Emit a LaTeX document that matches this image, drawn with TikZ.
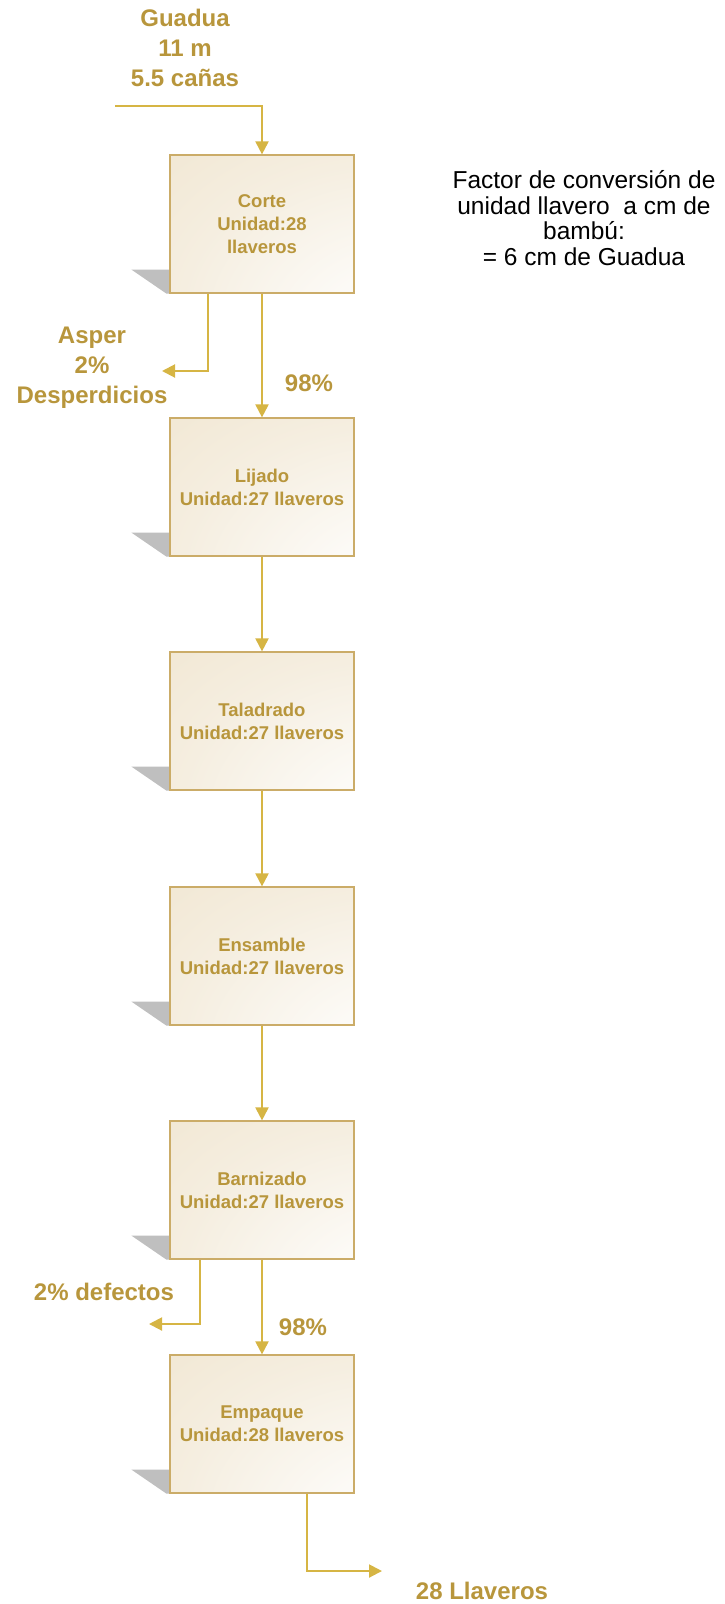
\documentclass[tikz,border=0pt]{standalone}
\usepackage{fontspec}
\setmainfont{Liberation Sans}
\usepackage{tikz}
\usetikzlibrary{arrows.meta,backgrounds}

\definecolor{oro}{RGB}{184,150,60}
\definecolor{flecha}{RGB}{214,181,68}
\definecolor{borde}{RGB}{203,172,104}
\definecolor{beige}{RGB}{238,226,201}
\definecolor{beigeclaro}{RGB}{245,238,224}
\pgfdeclareradialshading{caja}{\pgfpoint{50bp}{-50bp}}{color(0bp)=(white); color(15bp)=(white);
    color(55bp)=(beigeclaro); color(95bp)=(beige); color(160bp)=(beige)}

\begin{document}
\begin{tikzpicture}[x=1pt,y=-1pt,
    proceso/.style={draw=borde, line width=1.2pt, minimum width=184pt, minimum height=138pt,
        align=center, text=oro, font=\fontsize{18.5}{23}\selectfont\bfseries,
        shade, shading=caja},
    flujo/.style={draw=flecha, line width=2pt, -{Triangle[length=13pt,width=13pt]}},
    etiqueta/.style={align=center, text=oro, font=\fontsize{24}{30}\selectfont\bfseries},
    sombra/.style={fill=black!25}]
    \useasboundingbox (0,0) rectangle (724,1604);

    \node[etiqueta] (guadua) at (185,48) {Guadua\\11 m\\5.5 cañas};
    \node[align=center, font=\fontsize{24.5}{25.5}\selectfont] (factor) at (584,218)
        {Factor de conversión de\\unidad llavero\ \ a cm de\\bambú:\\= 6 cm de Guadua};

    \node[proceso] (corte) at (262,224) {Corte\\Unidad:28\\llaveros};
    \node[proceso] (lijado) at (262,487) {Lijado\\Unidad:27 llaveros};
    \node[proceso] (taladrado) at (262,721) {Taladrado\\Unidad:27 llaveros};
    \node[proceso] (ensamble) at (262,956) {Ensamble\\Unidad:27 llaveros};
    \node[proceso] (barnizado) at (262,1190) {Barnizado\\Unidad:27 llaveros};
    \node[proceso] (empaque) at (262,1424) {Empaque\\Unidad:28 llaveros};

    \begin{scope}[on background layer]
        \foreach \b in {corte,lijado,taladrado,ensamble,barnizado,empaque}
            \fill[sombra] ([xshift=-38pt,yshift=24pt]\b.south west) -- ([yshift=24pt]\b.south west)
                -- (\b.south west) -- ([xshift=-3pt]\b.south west) -- cycle;
    \end{scope}

    \node[etiqueta] (asper) at (92,368) {Asper\\2\%\\Desperdicios};
    \node[etiqueta] (pct1) at (309,383) {98\%};
    \node[etiqueta] (defectos) at (104,1292) {2\% defectos};
    \node[etiqueta] (pct2) at (303,1327) {98\%};
    \node[etiqueta] (salida) at (482,1591) {28 Llaveros};

    \coordinate (entrada) at (115,106);
    \coordinate (desp) at (162,371);
    \coordinate (def) at (149,1324);
    \coordinate (fin) at (382,1571);

    \draw[flujo] (entrada) -| (corte.north);
    \draw[flujo] ([xshift=-54pt]corte.south) |- (desp);
    \draw[flujo] (corte) -- (lijado);
    \draw[flujo] (lijado) -- (taladrado);
    \draw[flujo] (taladrado) -- (ensamble);
    \draw[flujo] (ensamble) -- (barnizado);
    \draw[flujo] ([xshift=-62pt]barnizado.south) |- (def);
    \draw[flujo] (barnizado) -- (empaque);
    \draw[flujo] ([xshift=45pt]empaque.south) |- (fin);
\end{tikzpicture}
\end{document}
